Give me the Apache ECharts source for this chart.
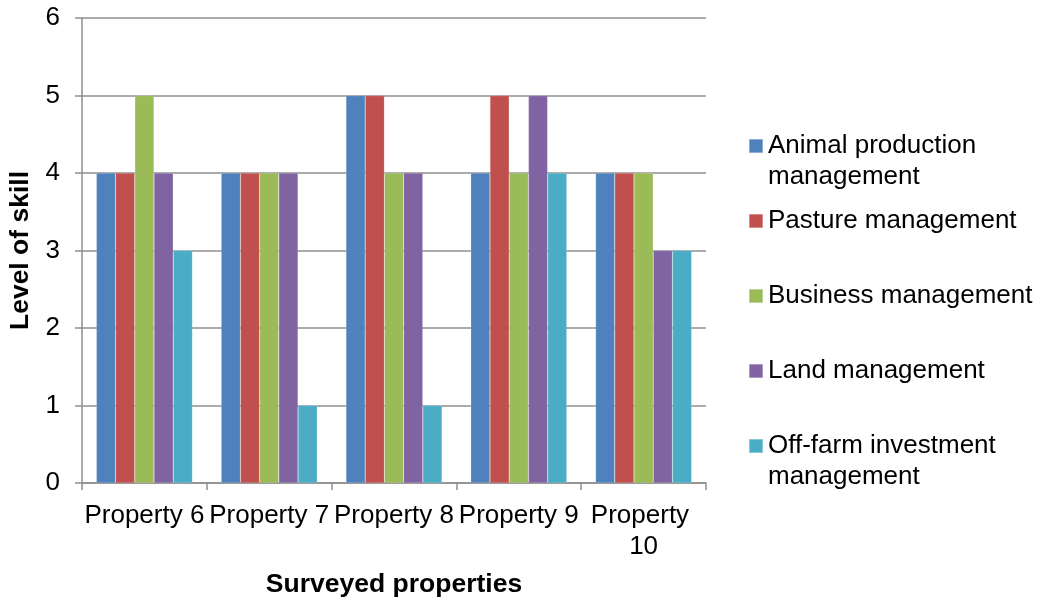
<!DOCTYPE html>
<html>
<head>
<meta charset="utf-8">
<title>Level of skill by surveyed property</title>
<script src="https://cdn.jsdelivr.net/npm/echarts@6/dist/echarts.min.js"></script>
<style>
  html, body { margin: 0; padding: 0; background: #fff; }
  #chart { width: 1043px; height: 599px; }
</style>
</head>
<body>
<div id="chart"></div>
<script>
// Surveyed properties along the x axis
var categories = ['Property 6', 'Property 7', 'Property 8', 'Property 9', 'Property 10'];

// Skill areas (one bar series each) and their colours
var seriesNames = [
  'Animal production management',
  'Pasture management',
  'Business management',
  'Land management',
  'Off-farm investment management'
];
var seriesColors = ['#4F81BD', '#C0504D', '#9BBB59', '#8064A2', '#4BACC6'];

// Level of skill per property, one array per skill area
var animalProduction = [4, 4, 5, 4, 4];
var pasture          = [4, 4, 5, 5, 4];
var business         = [5, 4, 4, 4, 4];
var land             = [4, 4, 4, 5, 3];
var offFarm          = [3, 1, 1, 4, 3];

// Legend text, wrapped the way it is laid out beside the plot
var legendLines = [
  ['Animal production', 'management'],
  ['Pasture management'],
  ['Business management'],
  ['Land management'],
  ['Off-farm investment', 'management']
];

// Y axis ticks
var yTicks = [0, 1, 2, 3, 4, 5, 6];

var seriesValues = [animalProduction, pasture, business, land, offFarm];

var FONT = '"Liberation Sans", Arial, Helvetica, sans-serif';
var GRID_GRAY = '#8f8f8f';
var LINE_H = 31;
var legendIconCenters = [146, 221, 296, 371, 446];

var chart = echarts.init(document.getElementById('chart'), null, { renderer: 'canvas' });

// One legend block per series so each icon sits beside the first line of its text.
// Wrapped entries get a blank leading line, which keeps the first text line level
// with the vertically centred icon.
var legends = seriesNames.map(function (name, i) {
  var lines = legendLines[i];
  var twoLines = lines.length > 1;
  var text = twoLines ? ' \n' + lines.join('\n') : lines[0];
  var half = twoLines ? LINE_H * 1.5 : LINE_H / 2;
  return {
    show: true,
    orient: 'vertical',
    left: 748,
    top: legendIconCenters[i] - half,
    padding: 0,
    itemWidth: 14,
    itemHeight: 14,
    icon: 'rect',
    selectedMode: false,
    data: [name],
    formatter: function () { return text; },
    textStyle: {
      fontFamily: FONT,
      fontSize: 26,
      color: '#000',
      lineHeight: LINE_H
    }
  };
});

var option = {
  backgroundColor: '#fff',
  animation: false,
  color: seriesColors,
  textStyle: { fontFamily: FONT },
  legend: legends,
  grid: {
    left: 82,
    top: 18,
    right: 337,
    bottom: 116,
    containLabel: false,
    outerBoundsMode: 'none'
  },
  xAxis: {
    type: 'category',
    data: categories,
    boundaryGap: true,
    name: 'Surveyed properties',
    nameLocation: 'middle',
    nameGap: 88,
    nameTextStyle: {
      fontFamily: FONT,
      fontSize: 26.5,
      fontWeight: 'bold',
      color: '#000'
    },
    axisLine: { show: true, lineStyle: { color: GRID_GRAY, width: 1.5 } },
    axisTick: { show: true, length: 7, alignWithLabel: false, lineStyle: { color: GRID_GRAY, width: 1.5 } },
    axisLabel: {
      fontFamily: FONT,
      fontSize: 26,
      color: '#000',
      margin: 17,
      lineHeight: LINE_H,
      interval: 0,
      width: 124,
      overflow: 'break'
    },
    splitLine: { show: false }
  },
  yAxis: {
    type: 'value',
    min: yTicks[0],
    max: yTicks[yTicks.length - 1],
    interval: 1,
    name: 'Level of skill',
    nameLocation: 'middle',
    nameRotate: 90,
    nameGap: 48,
    nameTextStyle: {
      fontFamily: FONT,
      fontSize: 26.5,
      fontWeight: 'bold',
      color: '#000'
    },
    axisLine: { show: true, lineStyle: { color: GRID_GRAY, width: 1.5 } },
    axisTick: { show: true, length: 7, lineStyle: { color: GRID_GRAY, width: 1.5 } },
    axisLabel: {
      fontFamily: FONT,
      fontSize: 26,
      color: '#000',
      margin: 22
    },
    splitLine: { show: true, lineStyle: { color: GRID_GRAY, width: 1.5 } }
  },
  series: seriesNames.map(function (name, i) {
    return {
      name: name,
      type: 'bar',
      data: seriesValues[i],
      barGap: '0%',
      barCategoryGap: '23%',
      itemStyle: {
        color: seriesColors[i],
        borderColor: 'rgba(255,255,255,0.35)',
        borderWidth: 0.5
      },
      emphasis: { disabled: true }
    };
  })
};

chart.setOption(option);
</script>
</body>
</html>
